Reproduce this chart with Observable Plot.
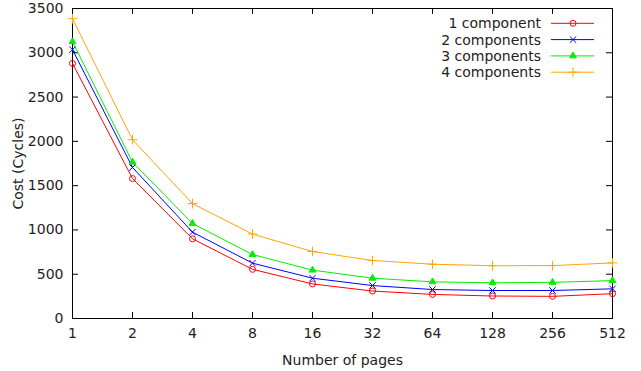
<!DOCTYPE html>
<html><head><meta charset="utf-8">
<script src="https://cdn.jsdelivr.net/npm/d3@7"></script>
<script src="https://cdn.jsdelivr.net/npm/@observablehq/plot@0.6"></script>
<style>
html,body{margin:0;padding:0;background:#fff;}
svg{font-family:"DejaVu Sans",sans-serif;}
</style></head>
<body><div id="chart"></div>
<script>
const pages = [1, 2, 4, 8, 16, 32, 64, 128, 256, 512];
const seriesNames = ["1 component", "2 components", "3 components", "4 components"];
const comp1 = [2880, 1580, 900, 555, 390, 310, 272, 254, 250, 280];
const comp2 = [3035, 1705, 975, 625, 455, 372, 327, 316, 316, 335];
const comp3 = [3125, 1765, 1073, 722, 546, 455, 414, 403, 408, 428];
const comp4 = [3385, 2018, 1297, 953, 756, 655, 613, 596, 597, 628];
const yTicks = [0, 500, 1000, 1500, 2000, 2500, 3000, 3500];
const colors = ["#ff0000", "#0000ff", "#00ee00", "#ffa500"];
const symbols = ["circle", "times", "triangle", "plus"];
const fills = ["none", "none", "#00ee00", "none"];
const radii = [3, 3, 2.5, 3.2];

const W = 641, H = 371, ML = 72, MR = 29, MT = 8, MB = 53, TL = 6;
const FW = W - ML - MR, FH = H - MT - MB;

const allSeries = [comp1, comp2, comp3, comp4];
const data = [];
allSeries.forEach((vals, i) => vals.forEach((v, j) => data.push({series: seriesNames[i], pages: pages[j], cost: v})));

const chart = Plot.plot({
  width: W, height: H,
  marginLeft: ML, marginRight: MR, marginTop: MT, marginBottom: MB,
  style: {fontFamily: "DejaVu Sans, sans-serif", fontSize: "14px", color: "#222", background: "#fff"},
  x: {type: "log", base: 2, domain: [1, 512]},
  y: {domain: [0, 3500]},
  color: {domain: seriesNames, range: colors},
  symbol: {domain: seriesNames, range: symbols},
  marks: [
    // inward ticks on all four sides
    Plot.tickX(pages, {x: d => d, insetTop: FH - TL, stroke: "#000"}),
    Plot.tickX(pages, {x: d => d, insetBottom: FH - TL, stroke: "#000"}),
    Plot.tickY(yTicks, {y: d => d, insetRight: FW - TL, stroke: "#000"}),
    Plot.tickY(yTicks, {y: d => d, insetLeft: FW - TL, stroke: "#000"}),
    Plot.frame({stroke: "#000"}),
    Plot.axisX({ticks: pages, tickSize: 0, tickPadding: 10, tickFormat: d => String(d), label: "Number of pages", labelAnchor: "center", labelArrow: "none", labelOffset: 46, fill: "#222"}),
    Plot.axisY({ticks: yTicks, tickSize: 0, tickPadding: 9, tickFormat: d => String(d), label: "Cost (Cycles)", labelAnchor: "center", labelArrow: "none", labelOffset: 59, fill: "#222"}),
    Plot.line(data, {x: "pages", y: "cost", z: "series", stroke: "series", strokeWidth: 1}),
    ...seriesNames.map((s, i) => Plot.dot(data.filter(d => d.series === s), {x: "pages", y: "cost", symbol: "series", stroke: colors[i], fill: fills[i], r: radii[i], strokeWidth: 1}))
  ]
});

// legend inside plot, top-right
const svg = d3.select(chart);
const lg = svg.append("g").attr("font-family", "DejaVu Sans, sans-serif").attr("font-size", 14);
const symGen = [d3.symbolCircle, d3.symbolTimes, d3.symbolTriangle, d3.symbolPlus];
seriesNames.forEach((s, i) => {
  const yy = 23.3 + i * 16.3;
  lg.append("text").attr("x", 541).attr("y", yy).attr("dy", "0.35em").attr("text-anchor", "end").attr("fill", "#222").text(s);
  lg.append("line").attr("x1", 551).attr("x2", 594).attr("y1", yy).attr("y2", yy).attr("stroke", colors[i]).attr("stroke-width", 1);
  lg.append("path").attr("transform", `translate(573,${yy})`).attr("d", d3.symbol(symGen[i], Math.PI * radii[i] * radii[i])()).attr("stroke", colors[i]).attr("fill", fills[i]);
});

document.getElementById("chart").appendChild(chart);
</script></body></html>
